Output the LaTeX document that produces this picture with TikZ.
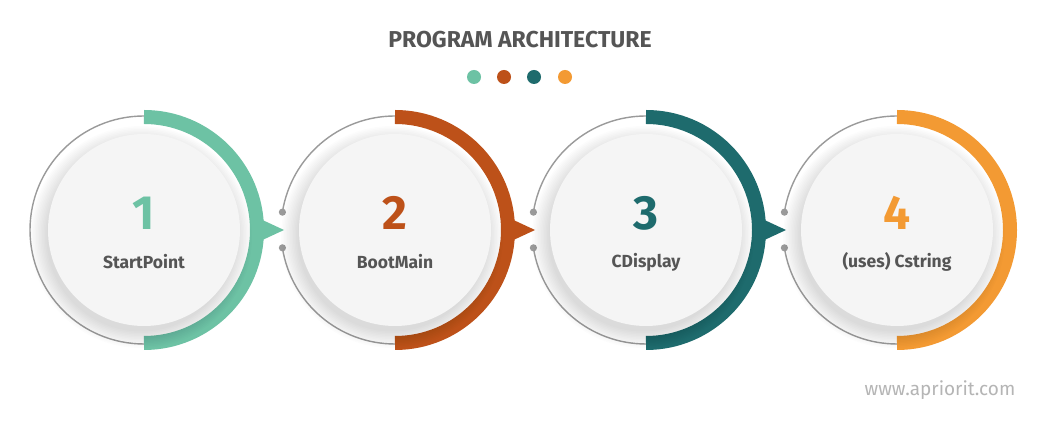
\documentclass[tikz,border=0pt]{standalone}
\usepackage{fontspec}
\setmainfont{Fira Sans}
\usetikzlibrary{positioning}

\definecolor{stepA}{HTML}{6DC2A4}
\definecolor{stepB}{HTML}{BD5119}
\definecolor{stepC}{HTML}{1E6B6D}
\definecolor{stepD}{HTML}{F39A33}
\definecolor{ringgray}{HTML}{9A9A9A}
\definecolor{facegray}{HTML}{F5F5F5}
\definecolor{titlegray}{HTML}{555555}
\definecolor{markgray}{HTML}{B5B5B5}

\tikzset{
  ring/.style={draw=ringgray, line width=1.4pt},
  band/.style={line width=14pt},
  face/.style={circle, fill=facegray, minimum size=192pt, inner sep=0pt},
  numtext/.style={font=\bfseries\fontsize{48}{50}\selectfont, inner sep=0pt},
  steptext/.style={font=\bfseries\fontsize{17.5}{20}\selectfont, text=titlegray, inner sep=0pt},
  tip/.style={fill=ringgray},
}

\begin{document}
\begin{tikzpicture}[x=1pt,y=1pt]
    \fill[white] (0,0) rectangle (1049,427);
    \useasboundingbox (0,0) rectangle (1049,427);
    % heading and colour dots
    \node[font=\bfseries\fontsize{23}{26}\selectfont, text=titlegray] (title) at (520,387) {PROGRAM ARCHITECTURE};
    \foreach \d/\col in {474/stepA,504/stepB,534/stepC,565/stepD}
    \fill[\col] (\d,350) circle (7);
    % the four steps
    \foreach \i/\cx/\col/\lbl in {1/144/stepA/StartPoint,2/395/stepB/BootMain,3/646/stepC/CDisplay,4/897/stepD/{(uses) Cstring}}{
        \coordinate (c\i) at (\cx,197);
        \ifnum\i=1
        \draw[ring] (c\i) ++(0,114) arc[start angle=90, end angle=270, radius=114];
        \else
        \draw[ring] (c\i) ++(0,114) arc[start angle=90, end angle=171, radius=114] coordinate (u\i);
        \draw[ring] (c\i) ++(0,-114) arc[start angle=270, end angle=189, radius=114] coordinate (l\i);
        \fill[tip] (u\i) circle (3.6);
        \fill[tip] (l\i) circle (3.6);
        \fi
        \draw[\col, band] (c\i) ++(0,113) arc[start angle=90, end angle=-90, radius=113];
        \ifnum\i<4
        \fill[\col] ([xshift=112pt,yshift=13pt]c\i) -- ([xshift=140pt]c\i) -- ([xshift=112pt,yshift=-13pt]c\i) -- cycle;
        \fi
        \foreach \k in {1,...,12}
        \fill[black, opacity=0.013] ([xshift=-3pt,yshift=-7pt]c\i) circle (93+\k*1.5);
        \node[face] (f\i) at (c\i) {};
        \node[numtext, text=\col] (n\i) at ([yshift=17pt]f\i.center) {\i};
        \node[steptext] (s\i) at ([yshift=-32pt]f\i.center) {\lbl};
    }
    \node[font=\fontsize{19}{22}\selectfont, text=markgray] (web) at (940,37) {www.apriorit.com};
\end{tikzpicture}
\end{document}
